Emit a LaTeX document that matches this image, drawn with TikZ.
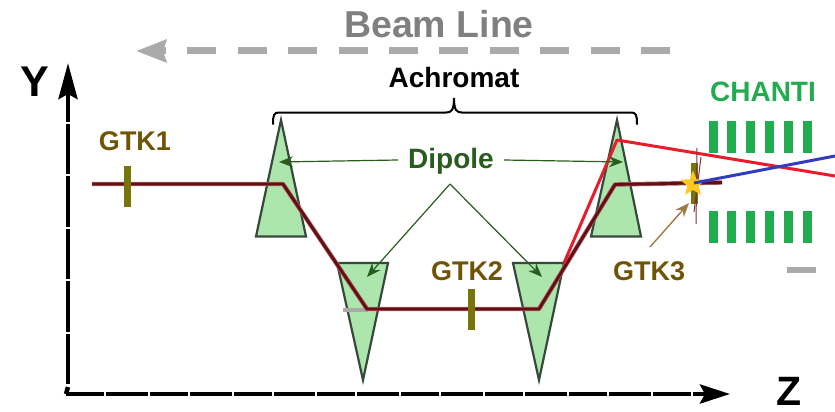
\documentclass[tikz,border=0pt]{standalone}
\usepackage{fontspec}
\setmainfont{Liberation Sans}
\usetikzlibrary{arrows.meta,shapes.geometric}
\definecolor{beamred}{RGB}{104,12,20}
\definecolor{beamhalo}{RGB}{160,100,100}
\definecolor{tripfill}{RGB}{172,230,172}
\definecolor{tripedge}{RGB}{55,72,60}
\definecolor{gtkol}{RGB}{112,84,6}
\definecolor{barol}{RGB}{120,118,10}
\definecolor{chgreen}{RGB}{34,172,80}
\definecolor{dipgreen}{RGB}{42,92,30}
\definecolor{beamgrey}{RGB}{170,170,170}
\definecolor{brownarrow}{RGB}{160,122,66}
\tikzset{
  lbl/.style={inner sep=0pt,font=\bfseries\fontsize{#1}{#1}\selectfont},
  gtklabel/.style={lbl=27,text=gtkol},
  dipolebox/.style={draw=tripedge,fill=tripfill,line width=2.2pt,line join=miter},
  beampath/.style={draw=beamred,line width=2.8pt,line join=round},
  beamglow/.style={draw=beamhalo,line width=4.4pt,line join=round},
  gtkbar/.style={draw=none,fill=barol,minimum width=7pt,minimum height=41pt,inner sep=0pt},
  chbar/.style={draw=none,fill=chgreen,minimum width=9pt,minimum height=32pt,inner sep=0pt},
  diparrow/.style={draw=dipgreen,line width=1.2pt,-{Stealth[length=14pt,width=11pt]}},
  axisline/.style={draw=black,line width=4.5pt},
}
\begin{document}
\begin{tikzpicture}[x=1pt,y=-1pt]
\useasboundingbox (0,0) rectangle (835,412);
% beam line
\node[lbl=37.5,text=black!50] (beamlabel) at (439,24) {Beam Line};
\coordinate (bstart) at (670,51);
\coordinate (bend) at (136,51);
\draw[beamgrey,line width=7pt,dash pattern=on 29pt off 21.4pt,-{Stealth[length=30pt,width=22pt,inset=3pt]}] (bstart) -- (bend);
% axes
\coordinate (ybot) at (68,384);
\coordinate (ytop) at (68,63);
\coordinate (xleft) at (66,394);
\coordinate (xright) at (730,394);
\coordinate (corner) at (68,387);
\draw[axisline,dash pattern=on 50.5pt off 2pt on 50.5pt off 2pt on 50.5pt off 2pt on 50.5pt off 2pt on 50.5pt off 2pt on 100pt off 0pt,-{Stealth[length=36pt,width=19pt,inset=5pt]}] (ybot) -- (ytop);
\draw[axisline] (corner) -- (xleft);
\draw[axisline,dash pattern=on 38pt off 2pt on 41.8pt off 2pt,-{Stealth[length=30pt,width=19pt,inset=5pt]}] (xleft) -- (xright);
\node[lbl=43] (ylabel) at (35,82) {Y};
\node[lbl=41] (zlabel) at (789,391) {Z};
% dipoles
\coordinate (t1a) at (281,120); \coordinate (t1b) at (256,236.5); \coordinate (t1c) at (306,236.5);
\coordinate (t2a) at (363,380); \coordinate (t2b) at (337,263); \coordinate (t2c) at (388,263);
\coordinate (t3a) at (539,380); \coordinate (t3b) at (513,263); \coordinate (t3c) at (564,263);
\coordinate (t4a) at (617,120); \coordinate (t4b) at (591,236.5); \coordinate (t4c) at (641,236.5);
\draw[dipolebox] (t1a) -- (t1b) -- (t1c) -- cycle;
\draw[dipolebox] (t2a) -- (t2b) -- (t2c) -- cycle;
\draw[dipolebox] (t3a) -- (t3b) -- (t3c) -- cycle;
\draw[dipolebox] (t4a) -- (t4b) -- (t4c) -- cycle;
% grey stub behind the beam
\coordinate (s1) at (343,310); \coordinate (s2) at (368,310);
\draw[beamgrey,line width=3.5pt] (s1) -- (s2);
% beam
\coordinate (b0) at (92,184); \coordinate (b1) at (283,184); \coordinate (b2) at (367,309);
\coordinate (b3) at (539,309); \coordinate (b4) at (615,184.5); \coordinate (b5) at (722,182.5);
\node[gtkbar] (gtk3bar) at (694,183.5) {};
\path[beamglow] (b0) -- (b1) -- (b2) -- (b3) -- (b4) -- (b5);
\path[beampath] (b0) -- (b1) -- (b2) -- (b3) -- (b4) -- (b5);
% GTK bars
\node[gtkbar] (gtk1bar) at (127,186) {};
\node[gtkbar] (gtk2bar) at (471,309.5) {};
% tracks
\coordinate (r0) at (564,263); \coordinate (r1) at (617,140); \coordinate (r2) at (835,176);
\draw[draw={rgb,255:red,232;green,28;blue,44},line width=3pt,line join=round] (r0) -- (r1) -- (r2);
% scatter lines
\coordinate (sc1a) at (697,148); \coordinate (sc1b) at (696,224);
\coordinate (sc2a) at (701,157); \coordinate (sc2b) at (694,212);
\draw[beamred!85,line width=1pt] (sc1a) -- (sc1b);
\draw[beamred!85,line width=1pt] (sc2a) -- (sc2b);
\node[star,star points=5,star point ratio=2.3,fill={rgb,255:red,255;green,200;blue,30},inner sep=0pt,minimum size=27pt] (decay) at (693,184) {};
\coordinate (blueend) at (835,156);
\coordinate (bluestart) at (694,183);
\draw[draw={rgb,255:red,50;green,60;blue,190},line width=3pt] (bluestart) -- (blueend);
% CHANTI
\node[lbl=28,text=chgreen] (chanti) at (763,92) {CHANTI};
\foreach \i/\x in {1/713,2/731.5,3/750.5,4/769,5/788,6/807}{
  \node[chbar] (chu\i) at (\x,137) {};
  \node[chbar] (chd\i) at (\x,227) {};
}
\coordinate (gd1) at (787,270); \coordinate (gd2) at (816,270);
\draw[beamgrey,line width=6pt] (gd1) -- (gd2);
% labels
\node[gtklabel] (gtk1) at (135,141) {GTK1};
\node[gtklabel] (gtk2) at (467,271) {GTK2};
\node[gtklabel] (gtk3) at (649,271) {GTK3};
\coordinate (g3from) at (650,247); \coordinate (g3to) at (689,203);
\draw[draw=brownarrow,line width=1.4pt,-{Stealth[length=14pt,width=11pt]}] (g3from) -- (g3to);
% Dipole
\node[lbl=28,text=dipgreen] (dipole) at (451,161) {Dipole};
\coordinate (dl) at (279,162); \coordinate (dr) at (623,162);
\coordinate (dapex) at (450,184);
\coordinate (dd1) at (367,277); \coordinate (dd2) at (542,277);
\draw[diparrow] ([xshift=-10pt,yshift=1pt]dipole.west) -- (dl);
\draw[diparrow] ([xshift=10pt,yshift=1pt]dipole.east) -- (dr);
\draw[diparrow] (dapex) -- (dd1);
\draw[diparrow] (dapex) -- (dd2);
% Achromat
\node[lbl=28] (achromat) at (454,77) {Achromat};
\coordinate (brl) at (273,124); \coordinate (brr) at (637,124); \coordinate (brt) at (454,98);
\draw[black,line width=2pt,line cap=round] (brl) .. controls (273,115) and (274,112.5) .. (279,112.5) -- (446,112.5) .. controls (451,112.5) and (454,111) .. (brt) .. controls (454,111) and (457,112.5) .. (462,112.5) -- (631,112.5) .. controls (636,112.5) and (637,115) .. (brr);
\end{tikzpicture}
\end{document}
